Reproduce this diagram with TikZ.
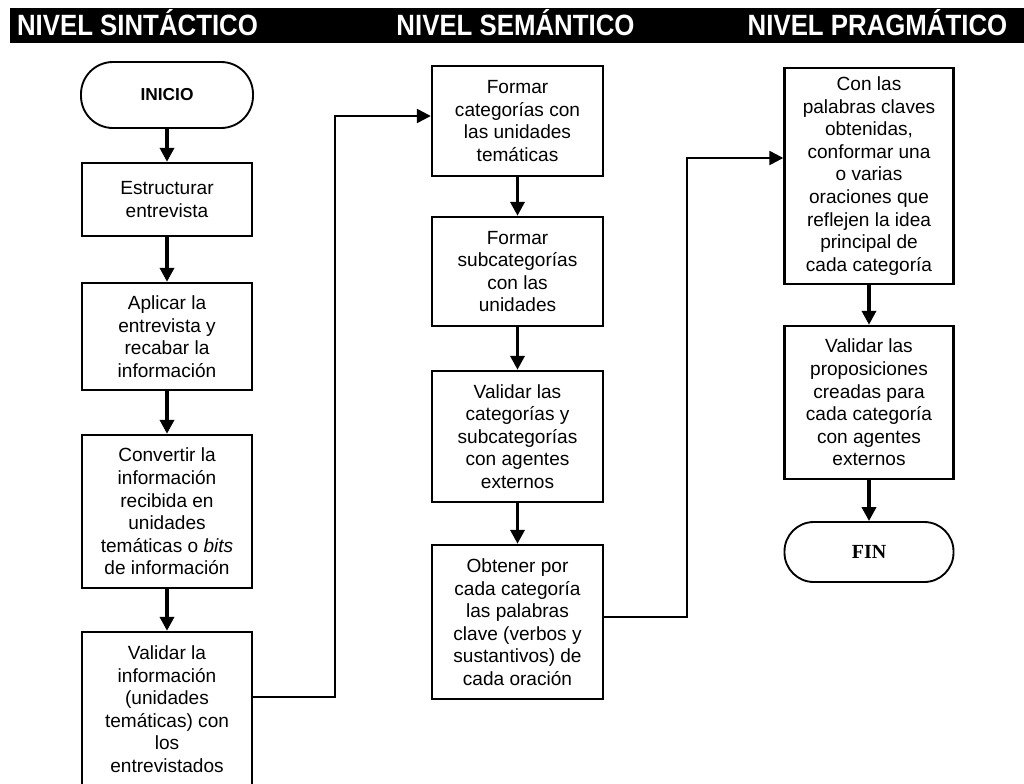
\documentclass[tikz,border=0pt]{standalone}
\usepackage{fontspec}
\usepackage{graphicx}
\setmainfont{Liberation Sans}
\newfontfamily\serfont{Liberation Serif}
\usetikzlibrary{arrows.meta,calc}
\begin{document}
\begin{tikzpicture}[x=0.75pt,y=-0.75pt,
  box/.style={draw,line width=1.8pt,rectangle,align=center,inner sep=2pt,
    font=\fontsize{14.3}{16.9}\selectfont},
  term/.style={draw,line width=1.4pt,rectangle,rounded corners=22pt,align=center},
  head/.style={anchor=base,text=white,font=\bfseries\fontsize{22}{26}\selectfont},
  arr/.style={line width=2.6pt,-{Triangle[length=10.5pt,width=10.5pt]}},
  conn/.style={line width=1.8pt,-{Triangle[length=10.5pt,width=10.5pt]}}
]
\useasboundingbox (0,0) rectangle (1024,783);
\fill[white] (0,0) rectangle (1024,783);
% header bar
\fill[black] (10,8) rectangle (1024,43);
\node[head] (h1) at (137.5,35) {\scalebox{0.88}[1]{NIVEL SINTÁCTICO}};
\node[head] (h2) at (515.5,35) {\scalebox{0.88}[1]{NIVEL SEMÁNTICO}};
\node[head] (h3) at (877.5,35) {\scalebox{0.88}[1]{NIVEL PRAGMÁTICO}};

% left column
\node[term,minimum width=129pt,minimum height=49.5pt,rounded corners=24pt,
  font=\bfseries\fontsize{13}{15}\selectfont] (inicio) at (167,95) {INICIO};
\node[box,minimum width=127.5pt,minimum height=54.75pt] (b1) at (167,199.5)
  {Estructurar\\entrevista};
\node[box,minimum width=127.5pt,minimum height=80.25pt] (b2) at (167,336.5)
  {Aplicar la\\entrevista y\\recabar la\\información};
\node[box,minimum width=127.5pt,minimum height=114.75pt] (b3) at (167,511.5)
  {Convertir la\\información\\recibida en\\unidades\\temáticas o \textit{bits}\\de información};
\node[box,minimum width=127.5pt,minimum height=115.5pt] (b4) at (167,709)
  {Validar la\\información\\(unidades\\temáticas) con\\los\\entrevistados};

% middle column
\node[box,minimum width=128.25pt,minimum height=82.5pt] (m1) at (517.5,121)
  {Formar\\categorías con\\las unidades\\temáticas};
\node[box,minimum width=128.25pt,minimum height=81.75pt] (m2) at (517.5,271.5)
  {Formar\\subcategorías\\con las\\unidades};
\node[box,minimum width=128.25pt,minimum height=98.25pt] (m3) at (517.5,436.5)
  {Validar las\\categorías y\\subcategorías\\con agentes\\externos};
\node[box,minimum width=128.25pt,minimum height=115.5pt] (m4) at (517.5,622)
  {Obtener por\\cada categoría\\las palabras\\clave (verbos y\\sustantivos) de\\cada oración};

% right column
\node[box,minimum width=126.75pt,minimum height=162pt] (r1) at (869,176)
  {Con las\\palabras claves\\obtenidas,\\conformar una\\o varias\\oraciones que\\reflejen la idea\\principal de\\cada categoría};
\node[box,minimum width=126.75pt,minimum height=114.75pt] (r2) at (869,402.5)
  {Validar las\\proposiciones\\creadas para\\cada categoría\\con agentes\\externos};
\node[term,minimum width=126.75pt,minimum height=45pt,
  font=\serfont\bfseries\fontsize{15}{17}\selectfont] (fin) at (869,552) {FIN};

% vertical arrows
\draw[arr] (inicio) -- (b1);
\draw[arr] (b1) -- (b2);
\draw[arr] (b2) -- (b3);
\draw[arr] (b3) -- (b4);
\draw[arr] (m1) -- (m2);
\draw[arr] (m2) -- (m3);
\draw[arr] (m3) -- (m4);
\draw[arr] (r1) -- (r2);
\draw[arr] (r2) -- (fin);

% column connectors
\coordinate (k1) at (335,116);
\coordinate (k2) at (687,158);
\draw[conn] ([yshift=9pt]b4.east) -| (k1) -- (m1.west |- k1);
\draw[conn] ([yshift=3.75pt]m4.east) -| (k2) -- (r1.west |- k2);
\end{tikzpicture}
\end{document}
